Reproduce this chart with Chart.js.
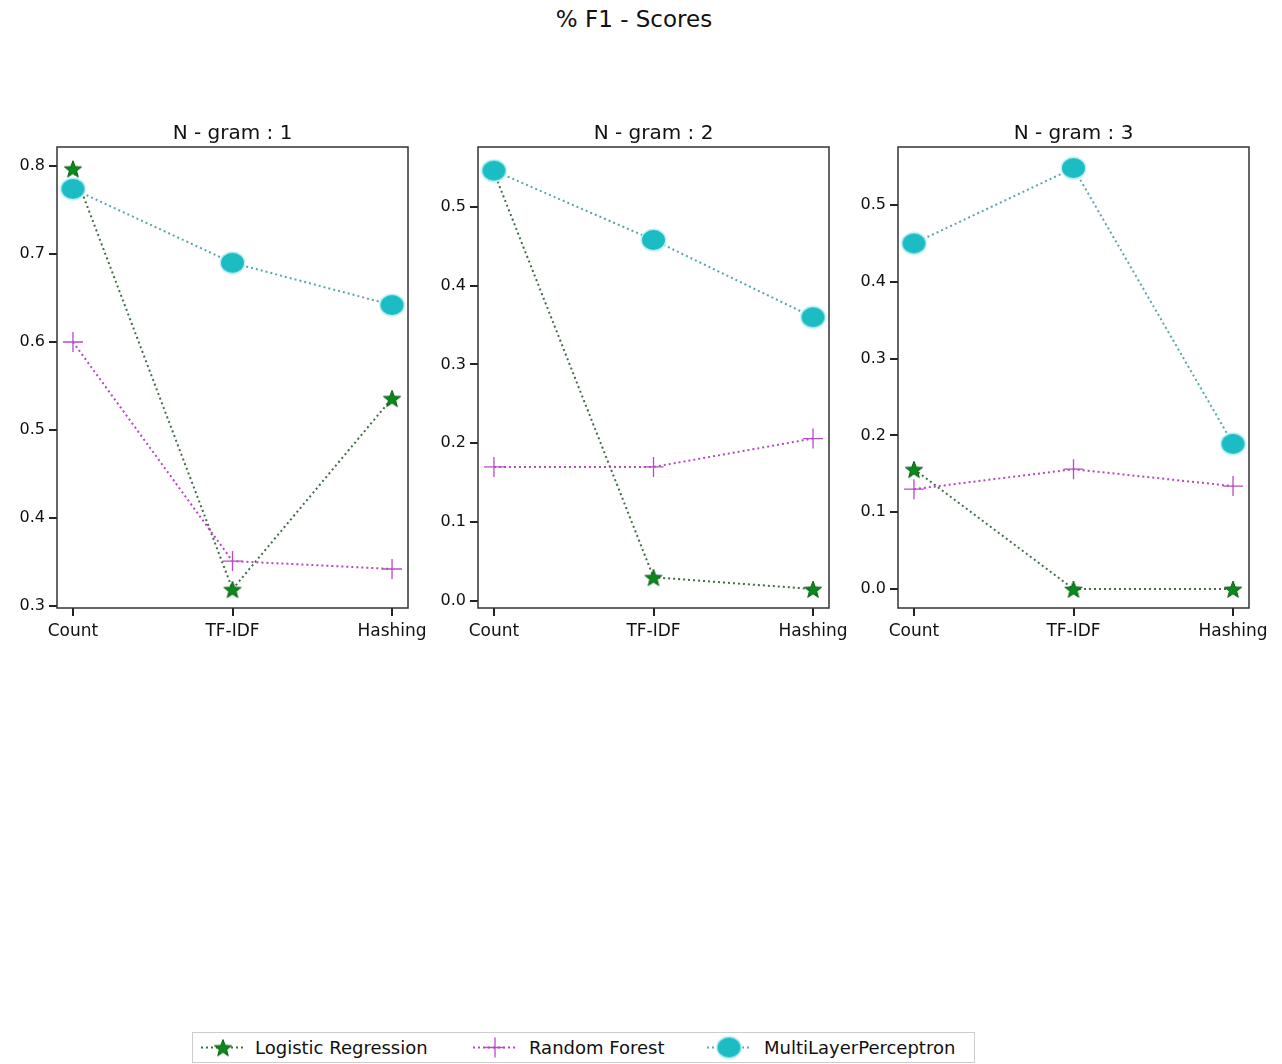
<!DOCTYPE html>
<html>
<head>
<meta charset="utf-8">
<script src="https://cdn.jsdelivr.net/npm/chart.js@4"></script>
<style>
    body { margin: 0; background: #fff; width: 1282px; height: 1064px; position: relative; overflow: hidden; font-family: "DejaVu Sans", sans-serif; }
    #mainTitle { position: absolute; top: 6px; left: 0; width: 1268px; text-align: center; font-size: 23px; color: #111; }
    .panel { position: absolute; top: 115px; width: 438px; height: 530px; }
    #legend { position: absolute; left: 192px; top: 1032px; width: 781px; height: 29px; border: 1px solid #ccc; font-size: 18px; color: #111; }
    .item { position: absolute; top: 0; height: 29px; line-height: 29px; }
    .item canvas { position: absolute; top: 0; }
    .item span { position: absolute; white-space: nowrap; }
</style>
</head>
<body>
<div id="mainTitle">% F1 - Scores</div>
<div class="panel" style="left:0px"><canvas id="chart1"></canvas></div>
<div class="panel" style="left:421px"><canvas id="chart2"></canvas></div>
<div class="panel" style="left:841px"><canvas id="chart3"></canvas></div>
<div id="legend"></div>

<script>
// categories / labels
const categories = ['Count', 'TF-IDF', 'Hashing'];
const panelTitles = ['N - gram : 1', 'N - gram : 2', 'N - gram : 3'];
const seriesNames = ['Logistic Regression', 'Random Forest', 'MultiLayerPerceptron'];

// values
const lr1 = [0.797, 0.319, 0.536];
const rf1 = [0.600, 0.351, 0.342];
const mlp1 = [0.774, 0.690, 0.642];

const lr2 = [0.544, 0.030, 0.015];
const rf2 = [0.170, 0.170, 0.206];
const mlp2 = [0.546, 0.458, 0.360];

const lr3 = [0.156, 0.000, 0.000];
const rf3 = [0.130, 0.156, 0.134];
const mlp3 = [0.450, 0.548, 0.189];

// y axis ranges and ticks
const yRange1 = [0.2977, 0.8216];
const yRange2 = [-0.009, 0.576];
const yRange3 = [-0.0247, 0.5755];
const yTicks1 = [0.3, 0.4, 0.5, 0.6, 0.7, 0.8];
const yTicks2 = [0.0, 0.1, 0.2, 0.3, 0.4, 0.5];
const yTicks3 = [0.0, 0.1, 0.2, 0.3, 0.4, 0.5];

const FONT = '"DejaVu Sans", sans-serif';

// marker images
function makeStar(size) {
    const c = document.createElement('canvas');
    c.width = size; c.height = size;
    const g = c.getContext('2d');
    const cx = size / 2, cy = size / 2 + 1, R = size / 2 - 1, r = R * 0.42;
    g.beginPath();
    for (let i = 0; i < 10; i++) {
        const rad = i % 2 === 0 ? R : r;
        const a = -Math.PI / 2 + i * Math.PI / 5;
        g.lineTo(cx + rad * Math.cos(a), cy + rad * Math.sin(a));
    }
    g.closePath();
    g.fillStyle = '#0a8a1a';
    g.fill();
    g.strokeStyle = '#0a5a12';
    g.lineWidth = 1;
    g.stroke();
    return c;
}

function makeEllipse(w, h) {
    const c = document.createElement('canvas');
    c.width = w + 4; c.height = h + 4;
    const g = c.getContext('2d');
    g.beginPath();
    g.ellipse(c.width / 2, c.height / 2, w / 2 + 1.5, h / 2 + 1.5, 0, 0, Math.PI * 2);
    g.fillStyle = '#bff0f2';
    g.fill();
    g.beginPath();
    g.ellipse(c.width / 2, c.height / 2, w / 2, h / 2, 0, 0, Math.PI * 2);
    g.fillStyle = '#1cbcc4';
    g.fill();
    return c;
}

const starImg = makeStar(20);
const dotImg = makeEllipse(23, 20);

const boxPlugin = {
    id: 'panelBox',
    afterDraw(chart) {
        const { ctx, chartArea: a } = chart;
        ctx.save();
        ctx.strokeStyle = '#333';
        ctx.lineWidth = 1.5;
        ctx.strokeRect(a.left, a.top, a.right - a.left, a.bottom - a.top);
        ctx.fillStyle = '#111';
        ctx.font = '20px ' + FONT;
        ctx.textAlign = 'center';
        ctx.textBaseline = 'bottom';
        ctx.fillText(chart.options.plugins.panelBox.text, (a.left + a.right) / 2, a.top - 3);
        ctx.restore();
    }
};

function toPoints(values) {
    return values.map((v, i) => ({ x: i, y: v }));
}

function makePanel(id, title, lr, rf, mlp, yRange, yTicks) {
    const ctx = document.getElementById(id);
    return new Chart(ctx, {
        type: 'line',
        data: {
            datasets: [
                {
                    label: seriesNames[0],
                    data: toPoints(lr),
                    order: 2,
                    borderColor: '#3f6e45',
                    borderWidth: 2,
                    borderDash: [2, 3],
                    pointStyle: starImg,
                    pointRadius: 10
                },
                {
                    label: seriesNames[1],
                    data: toPoints(rf),
                    order: 1,
                    borderColor: '#b348c0',
                    borderWidth: 2,
                    borderDash: [2, 3],
                    pointStyle: 'cross',
                    pointRadius: 10,
                    pointBorderWidth: 1.3,
                    pointBorderColor: '#b84cc8'
                },
                {
                    label: seriesNames[2],
                    data: toPoints(mlp),
                    order: 0,
                    borderColor: '#5aa6a8',
                    borderWidth: 2,
                    borderDash: [2, 3],
                    pointStyle: dotImg,
                    pointRadius: 11
                }
            ]
        },
        options: {
            responsive: false,
            animation: false,
            layout: {
                padding: { top: 32, right: 30, left: 0, bottom: 0 }
            },
            plugins: {
                legend: { display: false },
                tooltip: { enabled: false },
                panelBox: { text: title }
            },
            scales: {
                x: {
                    type: 'linear',
                    min: -0.1,
                    max: 2.1,
                    afterBuildTicks: axis => { axis.ticks = categories.map((c, i) => ({ value: i })); },
                    afterFit: axis => { axis.height = 37; },
                    border: { display: false },
                    grid: { drawOnChartArea: false, drawTicks: true, tickLength: 8, color: '#222', lineWidth: 2 },
                    ticks: {
                        color: '#111',
                        padding: 5,
                        maxRotation: 0,
                        font: { family: FONT, size: 17 },
                        callback: v => categories[v]
                    }
                },
                y: {
                    min: yRange[0],
                    max: yRange[1],
                    afterBuildTicks: axis => { axis.ticks = yTicks.map(v => ({ value: v })); },
                    afterFit: axis => { axis.width = 57; },
                    border: { display: false },
                    grid: { drawOnChartArea: false, drawTicks: true, tickLength: 8, color: '#222', lineWidth: 2 },
                    ticks: {
                        color: '#111',
                        padding: 4,
                        font: { family: FONT, size: 16 },
                        callback: v => v.toFixed(1)
                    }
                }
            }
        },
        plugins: [boxPlugin]
    });
}

function sizeCanvas(id) {
    const c = document.getElementById(id);
    c.width = 438; c.height = 530;
    c.style.width = '438px'; c.style.height = '530px';
}
['chart1', 'chart2', 'chart3'].forEach(sizeCanvas);

makePanel('chart1', panelTitles[0], lr1, rf1, mlp1, yRange1, yTicks1);
makePanel('chart2', panelTitles[1], lr2, rf2, mlp2, yRange2, yTicks2);
makePanel('chart3', panelTitles[2], lr3, rf3, mlp3, yRange3, yTicks3);

// legend
const legendItems = [
    { name: seriesNames[0], color: '#3f6e45', marker: 'star', left: 8, textLeft: 62 },
    { name: seriesNames[1], color: '#b348c0', marker: 'cross', left: 280, textLeft: 336 },
    { name: seriesNames[2], color: '#5aa6a8', marker: 'dot', left: 514, textLeft: 571 }
];
const legend = document.getElementById('legend');
legendItems.forEach(it => {
    const div = document.createElement('div');
    div.className = 'item';
    div.style.left = it.left + 'px';
    const c = document.createElement('canvas');
    c.width = 44; c.height = 29;
    const g = c.getContext('2d');
    g.strokeStyle = it.color;
    g.lineWidth = 2;
    g.setLineDash([2, 3]);
    g.beginPath();
    g.moveTo(0, 14.5); g.lineTo(44, 14.5);
    g.stroke();
    g.setLineDash([]);
    if (it.marker === 'star') {
        g.drawImage(starImg, 22 - starImg.width / 2, 14.5 - starImg.height / 2);
    } else if (it.marker === 'dot') {
        g.drawImage(dotImg, 22 - dotImg.width / 2, 14.5 - dotImg.height / 2);
    } else {
        g.strokeStyle = '#b84cc8';
        g.lineWidth = 1.3;
        g.beginPath();
        g.moveTo(12, 14.5); g.lineTo(32, 14.5);
        g.moveTo(22, 4.5); g.lineTo(22, 24.5);
        g.stroke();
    }
    div.appendChild(c);
    const s = document.createElement('span');
    s.textContent = it.name;
    s.style.left = (it.textLeft - it.left) + 'px';
    div.appendChild(s);
    legend.appendChild(div);
});
</script>
</body>
</html>
